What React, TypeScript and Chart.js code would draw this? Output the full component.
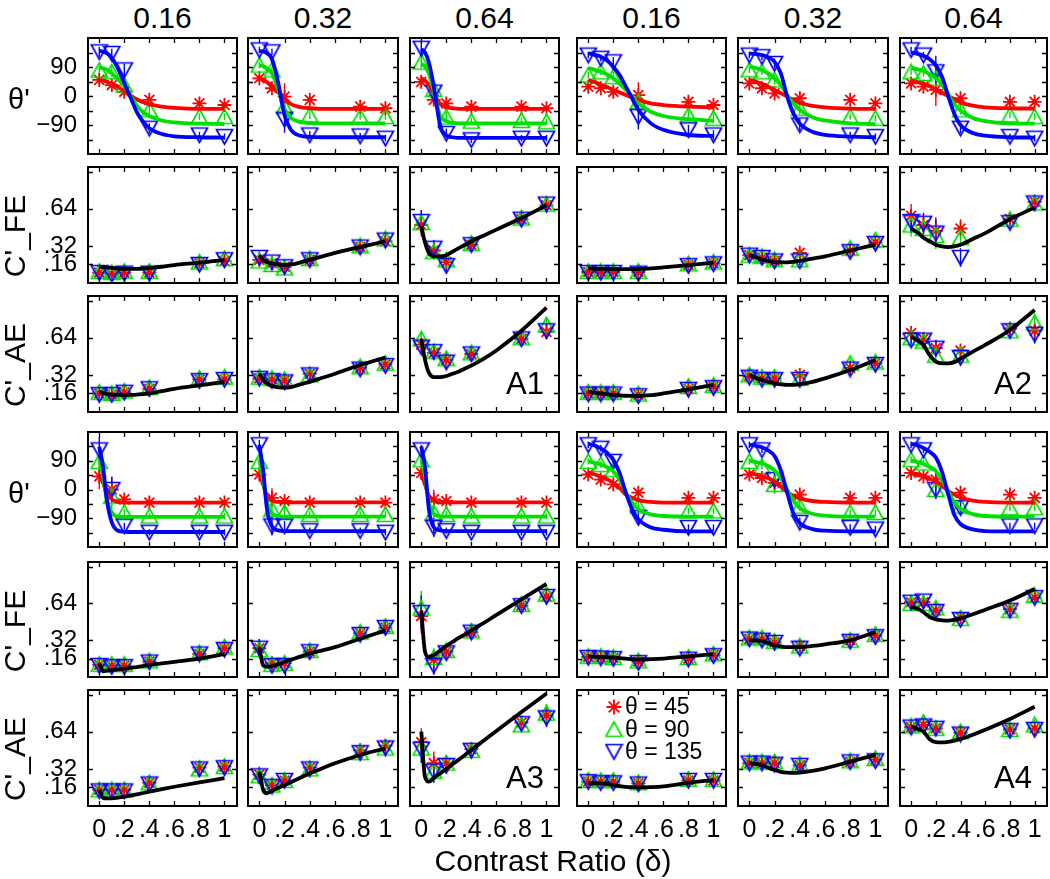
import React, { useEffect, useRef } from 'react';
import { Chart, registerables } from 'chart.js';

Chart.register(...registerables);

// ---------- shared axes / labels ----------
const X = [0, 0.1, 0.2, 0.4, 0.8, 1];
const FIT_X = [0, 0.03, 0.06, 0.1, 0.15, 0.2, 0.25, 0.3, 0.35, 0.4, 0.5, 0.6, 0.8, 1];
const X_TICKS = [0, 0.2, 0.4, 0.6, 0.8, 1];
const THETA_TICKS = [-135, -90, -45, 0, 45, 90, 135];
const THETA_LABELS = [-90, 0, 90];
const C_TICKS = [0.16, 0.32, 0.64, 0.96];
const C_LABELS = [0.16, 0.32, 0.64];
const COL_TITLES = ['0.16', '0.32', '0.64', '0.16', '0.32', '0.64'];
const ROW_LABELS = ["θ'", "C'_FE", "C'_AE", "θ'", "C'_FE", "C'_AE"];
const GROUP_NAMES = ['A1', 'A2', 'A3', 'A4'];
const LEGEND_LABELS = ['θ = 45', 'θ = 90', 'θ = 135'];
const X_TITLE = 'Contrast Ratio (δ)';

// ---------- A1 ----------
const A1_TH45 = [[50, 34, 13, -12, -23, -28], [55, 24, -2, -12, -33, -38], [44, -12, -23, -33, -33, -38]];
const A1_TH90 = [[80, 75, 34, -43, -64, -64], [96, 81, -33, -59, -64, -64], [105, 20, -65, -78, -76, -80]];
const A1_TH135 = [[137, 132, 81, -100, -121, -126], [143, 137, -72, -121, -124, -131], [148, 12, -116, -136, -131, -131]];
const A1_THFIT45 = [
  [50, 48, 44, 38, 28, 15, 2, -10, -19, -25, -33, -37, -40, -40],
  [55, 50, 43, 32, 12, -10, -25, -32, -36, -38, -40, -40, -40, -40],
  [55, 48, 35, 8, -25, -35, -38, -40, -40, -40, -40, -40, -40, -40]];
const A1_THFIT90 = [
  [88, 86, 82, 70, 52, 30, 0, -30, -50, -62, -76, -82, -86, -87],
  [95, 92, 86, 70, 20, -40, -68, -78, -82, -84, -85, -85, -85, -85],
  [100, 92, 70, 15, -60, -78, -83, -85, -85, -85, -85, -85, -85, -85]];
const A1_THFIT135 = [
  [140, 138, 133, 118, 85, 40, -5, -50, -80, -100, -118, -125, -128, -129],
  [140, 138, 133, 115, 40, -60, -105, -120, -125, -127, -128, -128, -128, -128],
  [145, 135, 105, 30, -90, -122, -128, -130, -130, -130, -130, -130, -130, -130]];
const A1_THERR = [[15, 15, 20, 15, 10, 10], [10, 10, 42, 12, 10, 10], [20, 15, 15, 10, 10, 10]];
const A1_FE45 = [[0.09, 0.08, 0.09, 0.09, 0.17, 0.19], [0.2, 0.17, 0.14, 0.2, 0.31, 0.36], [0.5, 0.28, 0.18, 0.33, 0.55, 0.67]];
const A1_FE90 = [[0.1, 0.09, 0.1, 0.1, 0.18, 0.21], [0.19, 0.16, 0.13, 0.21, 0.32, 0.38], [0.52, 0.27, 0.2, 0.34, 0.56, 0.68]];
const A1_FE135 = [[0.09, 0.075, 0.085, 0.085, 0.16, 0.2], [0.22, 0.18, 0.14, 0.2, 0.31, 0.37], [0.53, 0.3, 0.15, 0.33, 0.55, 0.68]];
const A1_FEFIT = [
  [0.14, 0.137, 0.134, 0.13, 0.125, 0.122, 0.121, 0.122, 0.125, 0.13, 0.14, 0.155, 0.175, 0.2],
  [0.24, 0.2, 0.18, 0.17, 0.16, 0.155, 0.16, 0.17, 0.185, 0.2, 0.23, 0.26, 0.31, 0.36],
  [0.49, 0.35, 0.26, 0.23, 0.23, 0.24, 0.27, 0.3, 0.33, 0.36, 0.41, 0.46, 0.56, 0.67]];
const A1_FEERR = [[0.03, 0.03, 0.03, 0.03, 0.04, 0.04], [0.05, 0.04, 0.04, 0.04, 0.04, 0.04], [0.1, 0.07, 0.05, 0.05, 0.04, 0.04]];
const A1_AE45 = [[0.16, 0.15, 0.17, 0.2, 0.28, 0.28], [0.29, 0.28, 0.27, 0.33, 0.38, 0.41], [0.58, 0.51, 0.45, 0.5, 0.63, 0.69]];
const A1_AE90 = [[0.17, 0.16, 0.18, 0.21, 0.29, 0.3], [0.3, 0.29, 0.28, 0.32, 0.39, 0.42], [0.63, 0.52, 0.46, 0.51, 0.64, 0.75]];
const A1_AE135 = [[0.15, 0.15, 0.17, 0.2, 0.27, 0.28], [0.29, 0.27, 0.26, 0.32, 0.37, 0.4], [0.56, 0.52, 0.43, 0.5, 0.63, 0.7]];
const A1_AEFIT = [
  [0.175, 0.165, 0.155, 0.15, 0.147, 0.146, 0.147, 0.15, 0.155, 0.16, 0.18, 0.2, 0.23, 0.26],
  [0.33, 0.28, 0.245, 0.224, 0.213, 0.21, 0.215, 0.23, 0.245, 0.26, 0.295, 0.33, 0.405, 0.47],
  [0.63, 0.45, 0.34, 0.3, 0.3, 0.31, 0.33, 0.35, 0.375, 0.4, 0.46, 0.53, 0.7, 0.9]];
const A1_AEERR = [[0.03, 0.03, 0.03, 0.04, 0.05, 0.05], [0.04, 0.04, 0.04, 0.04, 0.04, 0.05], [0.05, 0.06, 0.05, 0.05, 0.05, 0.06]];

// ---------- A2 ----------
const A2_TH45 = [[29, 24, 13, 3, -18, -28], [39, 24, 8, -7, -12, -23], [39, 29, 19, -7, -18, -18]];
const A2_TH90 = [[65, 75, 60, -18, -59, -69], [81, 75, 50, -38, -64, -69], [75, 70, 55, -43, -59, -64]];
const A2_TH135 = [[127, 117, 106, -64, -105, -121], [127, 122, 101, -90, -121, -126], [143, 127, 75, -100, -126, -131]];
const A2_THFIT45 = [
  [50, 46, 42, 36, 28, 19, 11, 3, -4, -12, -23, -28, -33, -35],
  [50, 47, 43, 38, 29, 19, 9, -2, -12, -21, -31, -35, -39, -40],
  [48, 45, 42, 38, 30, 20, 10, 0, -10, -20, -30, -35, -38, -39]];
const A2_THFIT90 = [
  [86, 84, 80, 75, 67, 55, 38, 19, -2, -23, -49, -62, -72, -77],
  [91, 89, 86, 81, 70, 55, 34, 3, -23, -43, -66, -76, -85, -87],
  [88, 85, 82, 78, 68, 55, 35, 5, -25, -45, -68, -78, -85, -86]];
const A2_THFIT135 = [
  [132, 130, 127, 122, 110, 91, 65, 29, -7, -43, -85, -105, -121, -124],
  [132, 131, 130, 127, 120, 106, 70, -2, -54, -85, -111, -121, -126, -128],
  [135, 133, 130, 125, 114, 95, 60, 0, -55, -90, -115, -123, -128, -129]];
const A2_THERR = [[10, 10, 15, 40, 15, 15], [10, 10, 15, 20, 10, 10], [10, 10, 50, 15, 10, 10]];
const A2_FE45 = [[0.095, 0.095, 0.095, 0.095, 0.155, 0.17], [0.24, 0.22, 0.19, 0.26, 0.28, 0.35], [0.58, 0.5, 0.45, 0.47, 0.55, 0.7]];
const A2_FE90 = [[0.1, 0.1, 0.1, 0.1, 0.165, 0.18], [0.24, 0.23, 0.2, 0.2, 0.3, 0.37], [0.5, 0.47, 0.41, 0.39, 0.55, 0.69]];
const A2_FE135 = [[0.09, 0.09, 0.09, 0.085, 0.15, 0.165], [0.24, 0.22, 0.19, 0.19, 0.27, 0.34], [0.53, 0.515, 0.43, 0.22, 0.52, 0.69]];
const A2_FEFIT = [
  [0.127, 0.125, 0.123, 0.122, 0.121, 0.12, 0.12, 0.12, 0.12, 0.12, 0.126, 0.135, 0.155, 0.175],
  [0.24, 0.23, 0.22, 0.2, 0.19, 0.18, 0.178, 0.178, 0.182, 0.19, 0.21, 0.23, 0.28, 0.33],
  [0.47, 0.45, 0.43, 0.39, 0.36, 0.33, 0.315, 0.31, 0.315, 0.33, 0.38, 0.43, 0.55, 0.65]];
const A2_FEERR = [[0.03, 0.03, 0.03, 0.03, 0.04, 0.04], [0.04, 0.04, 0.04, 0.04, 0.04, 0.04], [0.1, 0.09, 0.12, 0.08, 0.05, 0.04]];
const A2_AE45 = [[0.16, 0.16, 0.16, 0.15, 0.2, 0.22], [0.31, 0.29, 0.29, 0.32, 0.38, 0.42], [0.68, 0.63, 0.55, 0.53, 0.72, 0.7]];
const A2_AE90 = [[0.17, 0.17, 0.17, 0.155, 0.22, 0.23], [0.32, 0.3, 0.3, 0.29, 0.42, 0.43], [0.64, 0.61, 0.49, 0.49, 0.7, 0.77]];
const A2_AE135 = [[0.155, 0.155, 0.155, 0.14, 0.195, 0.21], [0.3, 0.28, 0.28, 0.28, 0.37, 0.41], [0.62, 0.62, 0.55, 0.47, 0.7, 0.67]];
const A2_AEFIT = [
  [0.175, 0.17, 0.165, 0.16, 0.153, 0.146, 0.143, 0.14, 0.139, 0.138, 0.145, 0.16, 0.195, 0.233],
  [0.319, 0.305, 0.29, 0.276, 0.26, 0.247, 0.238, 0.233, 0.234, 0.24, 0.26, 0.29, 0.362, 0.448],
  [0.65, 0.63, 0.61, 0.578, 0.49, 0.434, 0.42, 0.42, 0.43, 0.46, 0.52, 0.578, 0.707, 0.88]];
const A2_AEERR = [[0.03, 0.03, 0.03, 0.03, 0.04, 0.04], [0.04, 0.04, 0.04, 0.04, 0.04, 0.04], [0.05, 0.06, 0.07, 0.05, 0.05, 0.08]];

// ---------- A3 ----------
const A3_TH45 = [[41, 0, -31, -41, -41, -41], [47, -26, -36, -41, -41, -41], [52, -31, -36, -41, -41, -41]];
const A3_TH90 = [[88, -21, -72, -83, -83, -83], [88, -62, -72, -78, -78, -78], [93, -72, -78, -83, -83, -83]];
const A3_TH135 = [[124, 0, -114, -134, -134, -134], [140, -114, -114, -129, -129, -134], [124, -119, -129, -134, -134, -134]];
const A3_THFIT45 = [
  [47, 21, -10, -31, -39, -41, -41, -41, -41, -41, -41, -41, -41, -41],
  [50, 15, -20, -35, -39, -40, -40, -40, -40, -40, -40, -40, -40, -40],
  [50, 15, -20, -36, -40, -40, -40, -40, -40, -40, -40, -40, -40, -40]];
const A3_THFIT90 = [
  [93, 41, -31, -72, -85, -86, -86, -86, -86, -86, -86, -86, -86, -86],
  [95, 30, -40, -75, -83, -85, -85, -85, -85, -85, -85, -85, -85, -85],
  [95, 40, -40, -76, -84, -85, -85, -85, -85, -85, -85, -85, -85, -85]];
const A3_THFIT135 = [
  [134, 72, -31, -103, -129, -132, -133, -133, -133, -133, -133, -133, -133, -133],
  [140, 60, -60, -115, -128, -130, -130, -130, -130, -130, -130, -130, -130, -130],
  [135, 70, -60, -118, -128, -130, -130, -130, -130, -130, -130, -130, -130, -130]];
const A3_THERR = [[40, 40, 10, 10, 10, 10], [15, 30, 15, 10, 10, 10], [15, 30, 10, 10, 10, 10]];
const A3_FE45 = [[0.105, 0.1, 0.1, 0.135, 0.2, 0.25], [0.25, 0.12, 0.12, 0.22, 0.38, 0.43], [0.53, 0.15, 0.22, 0.39, 0.62, 0.7]];
const A3_FE90 = [[0.11, 0.11, 0.11, 0.14, 0.21, 0.26], [0.24, 0.11, 0.12, 0.23, 0.39, 0.44], [0.6, 0.17, 0.23, 0.4, 0.63, 0.72]];
const A3_FE135 = [[0.1, 0.09, 0.09, 0.13, 0.2, 0.24], [0.25, 0.1, 0.1, 0.22, 0.37, 0.43], [0.56, 0.1, 0.21, 0.39, 0.62, 0.7]];
const A3_FEFIT = [
  [0.117, 0.05, 0.055, 0.06, 0.066, 0.072, 0.08, 0.086, 0.094, 0.103, 0.118, 0.132, 0.16, 0.198],
  [0.26, 0.103, 0.09, 0.095, 0.11, 0.132, 0.15, 0.168, 0.186, 0.204, 0.232, 0.26, 0.333, 0.405],
  [0.578, 0.22, 0.175, 0.19, 0.23, 0.27, 0.305, 0.34, 0.37, 0.405, 0.47, 0.54, 0.675, 0.81]];
const A3_FEERR = [[0.03, 0.03, 0.03, 0.04, 0.04, 0.04], [0.08, 0.04, 0.04, 0.04, 0.04, 0.05], [0.15, 0.08, 0.06, 0.05, 0.04, 0.04]];
const A3_AE45 = [[0.14, 0.14, 0.14, 0.2, 0.33, 0.34], [0.27, 0.18, 0.22, 0.33, 0.48, 0.52], [0.55, 0.37, 0.37, 0.49, 0.72, 0.78]];
const A3_AE90 = [[0.14, 0.14, 0.14, 0.2, 0.32, 0.34], [0.26, 0.18, 0.22, 0.32, 0.46, 0.5], [0.5, 0.3, 0.37, 0.48, 0.7, 0.8]];
const A3_AE135 = [[0.13, 0.13, 0.13, 0.19, 0.32, 0.33], [0.26, 0.17, 0.22, 0.32, 0.46, 0.5], [0.49, 0.3, 0.35, 0.48, 0.71, 0.76]];
const A3_AEFIT = [
  [0.138, 0.07, 0.066, 0.066, 0.072, 0.08, 0.09, 0.1, 0.112, 0.123, 0.145, 0.166, 0.204, 0.24],
  [0.296, 0.14, 0.11, 0.132, 0.155, 0.181, 0.205, 0.23, 0.256, 0.282, 0.325, 0.368, 0.44, 0.497],
  [0.641, 0.25, 0.21, 0.24, 0.28, 0.32, 0.36, 0.4, 0.44, 0.483, 0.565, 0.647, 0.81, 0.97]];
const A3_AEERR = [[0.03, 0.03, 0.03, 0.04, 0.05, 0.05], [0.07, 0.05, 0.05, 0.05, 0.06, 0.06], [0.12, 0.1, 0.07, 0.06, 0.05, 0.08]];

// ---------- A4 ----------
const A4_TH45 = [[47, 31, 16, -10, -26, -26], [47, 36, 21, -16, -26, -26], [52, 41, 31, -10, -16, -26]];
const A4_TH90 = [[88, 78, 62, -52, -67, -67], [88, 72, 16, -52, -72, -72], [93, 83, 0, -52, -57, -57]];
const A4_TH135 = [[140, 129, 88, -88, -119, -119], [140, 124, 31, -103, -119, -124], [140, 124, 0, -57, -114, -114]];
const A4_THFIT45 = [
  [54, 50, 46, 41, 32, 21, 5, -16, -26, -33, -39, -41, -41, -41],
  [52, 49, 46, 42, 35, 25, 10, -8, -20, -28, -36, -39, -41, -41],
  [52, 49, 46, 42, 34, 25, 12, -5, -16, -25, -35, -39, -41, -41]];
const A4_THFIT90 = [
  [88, 86, 83, 78, 70, 57, 31, -10, -41, -62, -78, -83, -85, -85],
  [90, 88, 85, 82, 73, 60, 35, 0, -35, -58, -76, -82, -85, -85],
  [90, 88, 85, 80, 71, 58, 30, -5, -40, -60, -77, -83, -85, -85]];
const A4_THFIT135 = [
  [143, 140, 136, 129, 115, 93, 52, -10, -62, -93, -119, -126, -131, -131],
  [140, 139, 136, 132, 122, 105, 60, -10, -75, -105, -124, -129, -131, -131],
  [143, 141, 137, 130, 118, 100, 55, -15, -80, -108, -125, -130, -131, -131]];
const A4_THERR = [[10, 10, 15, 20, 10, 10], [10, 10, 30, 15, 10, 10], [10, 10, 30, 20, 10, 10]];
const A4_FE45 = [[0.175, 0.17, 0.165, 0.135, 0.16, 0.19], [0.33, 0.33, 0.3, 0.27, 0.32, 0.36], [0.65, 0.65, 0.58, 0.52, 0.59, 0.69]];
const A4_FE90 = [[0.18, 0.18, 0.17, 0.14, 0.17, 0.2], [0.34, 0.34, 0.31, 0.27, 0.32, 0.37], [0.64, 0.64, 0.6, 0.51, 0.58, 0.71]];
const A4_FE135 = [[0.17, 0.165, 0.16, 0.125, 0.155, 0.185], [0.33, 0.32, 0.3, 0.25, 0.31, 0.35], [0.65, 0.66, 0.57, 0.5, 0.58, 0.69]];
const A4_FEFIT = [
  [0.18, 0.178, 0.176, 0.175, 0.172, 0.17, 0.165, 0.16, 0.155, 0.152, 0.155, 0.16, 0.18, 0.198],
  [0.319, 0.318, 0.316, 0.313, 0.295, 0.276, 0.266, 0.26, 0.26, 0.26, 0.27, 0.284, 0.319, 0.39],
  [0.607, 0.6, 0.59, 0.563, 0.52, 0.5, 0.493, 0.49, 0.497, 0.51, 0.545, 0.585, 0.665, 0.765]];
const A4_FEERR = [[0.03, 0.03, 0.03, 0.03, 0.03, 0.03], [0.04, 0.04, 0.04, 0.04, 0.04, 0.04], [0.04, 0.05, 0.05, 0.04, 0.04, 0.04]];
const A4_AE45 = [[0.21, 0.21, 0.21, 0.195, 0.22, 0.22], [0.37, 0.37, 0.37, 0.35, 0.38, 0.4], [0.68, 0.7, 0.67, 0.63, 0.66, 0.67]];
const A4_AE90 = [[0.22, 0.22, 0.22, 0.2, 0.23, 0.23], [0.38, 0.38, 0.38, 0.36, 0.39, 0.41], [0.69, 0.72, 0.67, 0.64, 0.66, 0.7]];
const A4_AE135 = [[0.21, 0.2, 0.2, 0.19, 0.22, 0.22], [0.37, 0.37, 0.36, 0.35, 0.38, 0.39], [0.68, 0.69, 0.67, 0.62, 0.65, 0.66]];
const A4_AEFIT = [
  [0.195, 0.195, 0.195, 0.195, 0.19, 0.181, 0.172, 0.165, 0.162, 0.16, 0.163, 0.17, 0.2, 0.224],
  [0.368, 0.365, 0.36, 0.353, 0.33, 0.31, 0.295, 0.287, 0.285, 0.287, 0.302, 0.325, 0.382, 0.44],
  [0.684, 0.675, 0.66, 0.641, 0.575, 0.55, 0.548, 0.553, 0.563, 0.578, 0.615, 0.657, 0.75, 0.856]];
const A4_AEERR = [[0.03, 0.03, 0.03, 0.03, 0.03, 0.03], [0.04, 0.04, 0.04, 0.04, 0.04, 0.04], [0.04, 0.04, 0.04, 0.04, 0.04, 0.04]];

// ---------- layout & style ----------
const FONT = "'Liberation Sans', Arial, Helvetica, sans-serif";
const RED = '#ff0000';
const GREEN = '#00e000';
const BLUE = '#0000ff';
const COL_LEFT = [88, 248, 410, 577, 738, 900];
const COL_W = [149, 150, 149, 149, 150, 147];
const ROW_TOP = [38, 167, 296, 432, 562, 690];
const ROW_H = [116, 116, 116, 115, 115, 116];

type Group = {
  r0: number; c0: number;
  th45: number[][]; th90: number[][]; th135: number[][];
  thFit45: number[][]; thFit90: number[][]; thFit135: number[][]; thErr: number[][];
  fe45: number[][]; fe90: number[][]; fe135: number[][]; feFit: number[][]; feErr: number[][];
  ae45: number[][]; ae90: number[][]; ae135: number[][]; aeFit: number[][]; aeErr: number[][];
};

const GROUPS: Group[] = [
  { r0: 0, c0: 0, th45: A1_TH45, th90: A1_TH90, th135: A1_TH135, thFit45: A1_THFIT45, thFit90: A1_THFIT90, thFit135: A1_THFIT135, thErr: A1_THERR,
    fe45: A1_FE45, fe90: A1_FE90, fe135: A1_FE135, feFit: A1_FEFIT, feErr: A1_FEERR, ae45: A1_AE45, ae90: A1_AE90, ae135: A1_AE135, aeFit: A1_AEFIT, aeErr: A1_AEERR },
  { r0: 0, c0: 3, th45: A2_TH45, th90: A2_TH90, th135: A2_TH135, thFit45: A2_THFIT45, thFit90: A2_THFIT90, thFit135: A2_THFIT135, thErr: A2_THERR,
    fe45: A2_FE45, fe90: A2_FE90, fe135: A2_FE135, feFit: A2_FEFIT, feErr: A2_FEERR, ae45: A2_AE45, ae90: A2_AE90, ae135: A2_AE135, aeFit: A2_AEFIT, aeErr: A2_AEERR },
  { r0: 3, c0: 0, th45: A3_TH45, th90: A3_TH90, th135: A3_TH135, thFit45: A3_THFIT45, thFit90: A3_THFIT90, thFit135: A3_THFIT135, thErr: A3_THERR,
    fe45: A3_FE45, fe90: A3_FE90, fe135: A3_FE135, feFit: A3_FEFIT, feErr: A3_FEERR, ae45: A3_AE45, ae90: A3_AE90, ae135: A3_AE135, aeFit: A3_AEFIT, aeErr: A3_AEERR },
  { r0: 3, c0: 3, th45: A4_TH45, th90: A4_TH90, th135: A4_TH135, thFit45: A4_THFIT45, thFit90: A4_THFIT90, thFit135: A4_THFIT135, thErr: A4_THERR,
    fe45: A4_FE45, fe90: A4_FE90, fe135: A4_FE135, feFit: A4_FEFIT, feErr: A4_FEERR, ae45: A4_AE45, ae90: A4_AE90, ae135: A4_AE135, aeFit: A4_AEFIT, aeErr: A4_AEERR },
];

type PanelSpec = {
  row: number; col: number; theta: boolean;
  s45: number[]; s90: number[]; s135: number[];
  fits: number[][]; err: number[]; legend: boolean;
};

const PANELS: PanelSpec[] = [];
GROUPS.forEach((g) => {
  for (let j = 0; j < 3; j++) {
    const col = g.c0 + j;
    PANELS.push({ row: g.r0, col, theta: true, s45: g.th45[j], s90: g.th90[j], s135: g.th135[j],
      fits: [g.thFit45[j], g.thFit90[j], g.thFit135[j]], err: g.thErr[j], legend: false });
    PANELS.push({ row: g.r0 + 1, col, theta: false, s45: g.fe45[j], s90: g.fe90[j], s135: g.fe135[j],
      fits: [g.feFit[j]], err: g.feErr[j], legend: false });
    PANELS.push({ row: g.r0 + 2, col, theta: false, s45: g.ae45[j], s90: g.ae90[j], s135: g.ae135[j],
      fits: [g.aeFit[j]], err: g.aeErr[j], legend: g.r0 + 2 === 5 && col === 3 });
  }
});

const pts = (xs: number[], ys: number[]) => xs.map((x, i) => ({ x, y: ys[i] }));

function triMarker(color: string, down: boolean): HTMLCanvasElement {
  const c = document.createElement('canvas');
  c.width = 19; c.height = 19;
  const g = c.getContext('2d')!;
  g.strokeStyle = color; g.lineWidth = 1.7; g.lineJoin = 'miter';
  g.beginPath();
  if (down) { g.moveTo(1.5, 2.5); g.lineTo(17.5, 2.5); g.lineTo(9.5, 17); }
  else { g.moveTo(9.5, 2); g.lineTo(17.5, 16.5); g.lineTo(1.5, 16.5); }
  g.closePath(); g.stroke();
  return c;
}

let MARKERS: { up: HTMLCanvasElement; down: HTMLCanvasElement } | null = null;
function markers() {
  if (!MARKERS) MARKERS = { up: triMarker(GREEN, false), down: triMarker(BLUE, true) };
  return MARKERS;
}

function drawStar(ctx: CanvasRenderingContext2D, cx: number, cy: number, r: number) {
  ctx.save();
  ctx.strokeStyle = RED; ctx.lineWidth = 1.8;
  ctx.beginPath();
  for (let k = 0; k < 4; k++) {
    const a = (k * Math.PI) / 4;
    ctx.moveTo(cx - Math.cos(a) * r, cy - Math.sin(a) * r);
    ctx.lineTo(cx + Math.cos(a) * r, cy + Math.sin(a) * r);
  }
  ctx.stroke();
  ctx.restore();
}

const framePlugin = {
  id: 'frame',
  beforeDatasetsDraw(chart: any) {
    const { ctx, chartArea: a, scales } = chart;
    const xs = scales.x, ys = scales.y;
    ctx.save();
    ctx.beginPath(); ctx.rect(a.left, a.top, a.right - a.left, a.bottom - a.top); ctx.clip();
    chart.data.datasets.forEach((ds: any) => {
      if (!ds.errs) return;
      ctx.strokeStyle = ds.errColor; ctx.lineWidth = 1.4;
      ds.data.forEach((p: any, i: number) => {
        const e = ds.errs[i];
        const px = xs.getPixelForValue(p.x);
        ctx.beginPath();
        ctx.moveTo(px, ys.getPixelForValue(p.y - e));
        ctx.lineTo(px, ys.getPixelForValue(p.y + e));
        ctx.stroke();
      });
    });
    ctx.restore();
  },
  afterDatasetsDraw(chart: any, _args: any, opts: any) {
    const { ctx, chartArea: a, scales } = chart;
    const xs = scales.x, ys = scales.y;
    ctx.save();
    ctx.strokeStyle = '#000'; ctx.lineWidth = 1.3;
    const tl = 5;
    ctx.beginPath();
    (opts.xt as number[]).forEach((v) => {
      const px = Math.round(xs.getPixelForValue(v)) + 0.5;
      ctx.moveTo(px, a.bottom); ctx.lineTo(px, a.bottom - tl);
      ctx.moveTo(px, a.top); ctx.lineTo(px, a.top + tl);
    });
    (opts.yt as number[]).forEach((v) => {
      const py = Math.round(ys.getPixelForValue(v)) + 0.5;
      ctx.moveTo(a.left, py); ctx.lineTo(a.left + tl, py);
      ctx.moveTo(a.right, py); ctx.lineTo(a.right - tl, py);
    });
    ctx.stroke();
    ctx.lineWidth = 2;
    ctx.strokeRect(a.left, a.top, a.right - a.left, a.bottom - a.top);
    if (opts.legend) {
      const m = markers();
      ctx.font = `23px ${FONT}`;
      ctx.fillStyle = '#000';
      ctx.textBaseline = 'middle';
      ctx.textAlign = 'left';
      LEGEND_LABELS.forEach((t, i) => {
        const cy = a.top + 17 + i * 22.3;
        const cx = a.left + 37;
        if (i === 0) drawStar(ctx, cx, cy, 7.5);
        else ctx.drawImage(i === 1 ? m.up : m.down, cx - 9.5, cy - 9.5);
        ctx.fillText(t, a.left + 48, cy + 1);
      });
    }
    ctx.restore();
  },
};

function Panel({ spec }: { spec: PanelSpec }) {
  const ref = useRef<HTMLCanvasElement>(null);
  const L = COL_LEFT[spec.col], T = ROW_TOP[spec.row], W = COL_W[spec.col], H = ROW_H[spec.row];
  const showY = spec.col === 0;
  const showX = spec.row === 5;
  const padL = showY ? 74 : 4;
  const padB = showX ? 44 : 4;
  const padT = 4, padR = 4;

  useEffect(() => {
    const m = markers();
    const fitColors = spec.theta ? [RED, GREEN, BLUE] : ['#000'];
    const datasets: any[] = [];
    spec.fits.forEach((f, i) => {
      datasets.push({
        type: 'line', data: pts(FIT_X, f), borderColor: fitColors[i], borderWidth: 3.8,
        pointRadius: 0, cubicInterpolationMode: 'monotone', fill: false, order: -1 - i,
      });
    });
    datasets.push({ type: 'scatter', data: pts(X, spec.s45), pointStyle: 'star', pointRadius: 7,
      pointBorderColor: RED, pointBackgroundColor: 'rgba(0,0,0,0)', pointBorderWidth: 1.8,
      errs: spec.err, errColor: RED, order: 3 });
    datasets.push({ type: 'scatter', data: pts(X, spec.s90), pointStyle: m.up, pointRadius: 9,
      pointBorderColor: GREEN, errs: spec.err, errColor: GREEN, order: 2 });
    datasets.push({ type: 'scatter', data: pts(X, spec.s135), pointStyle: m.down, pointRadius: 9,
      pointBorderColor: BLUE, errs: spec.err, errColor: BLUE, order: 1 });

    const yLabels = spec.theta ? THETA_LABELS : C_LABELS;
    const chart = new Chart(ref.current as HTMLCanvasElement, {
      type: 'scatter',
      data: { datasets },
      options: {
        animation: false,
        responsive: false,
        devicePixelRatio: 1,
        events: [],
        layout: { padding: { top: padT, right: padR, left: 0, bottom: 0 }, autoPadding: false },
        plugins: {
          legend: { display: false },
          tooltip: { enabled: false },
          frame: { xt: X_TICKS, yt: spec.theta ? THETA_TICKS : C_TICKS, legend: spec.legend },
        } as any,
        scales: {
          x: {
            type: 'linear', min: -0.09, max: 1.1,
            grid: { display: false, drawTicks: false },
            border: { display: false },
            ticks: {
              display: showX, color: '#000', padding: 9, maxRotation: 0, autoSkip: false,
              font: { size: 25, family: FONT },
              callback: (v: any) => (v === 0 ? '0' : v === 1 ? '1' : '.' + Math.round(Number(v) * 10)),
            },
            afterBuildTicks: (s: any) => { s.ticks = X_TICKS.map((v) => ({ value: v })); },
            afterFit: (s: any) => {
              s.height = padB;
              s.paddingLeft = 0; s.paddingRight = 0; s.paddingTop = 0; s.paddingBottom = 0;
            },
          },
          y: {
            type: 'linear', min: spec.theta ? -180 : 0, max: spec.theta ? 180 : 1,
            grid: { display: false, drawTicks: false },
            border: { display: false },
            ticks: {
              display: showY, color: '#000', padding: 11, autoSkip: false,
              font: { size: 24, family: FONT },
              callback: (v: any) => {
                const n = Number(v);
                if (spec.theta) return n < 0 ? '\u2212' + String(-n) : String(n);
                return '.' + Math.round(n * 100);
              },
            },
            afterBuildTicks: (s: any) => { s.ticks = yLabels.map((v) => ({ value: v })); },
            afterFit: (s: any) => {
              s.width = padL;
              s.paddingLeft = 0; s.paddingRight = 0; s.paddingTop = 0; s.paddingBottom = 0;
            },
          },
        },
      } as any,
      plugins: [framePlugin as any],
    });
    return () => chart.destroy();
  }, []);

  return (
    <canvas
      ref={ref}
      width={W + padL + padR}
      height={H + padT + padB}
      style={{ position: 'absolute', left: L - padL, top: T - padT, width: W + padL + padR, height: H + padT + padB }}
    />
  );
}

function Text({ x, baseline, size, children, align = 'left', width = 300 }: any) {
  const top = baseline - 0.8465 * size;
  let left = x;
  if (align === 'center') left = x - width / 2;
  if (align === 'right') left = x - width;
  return (
    <div style={{ position: 'absolute', left, top, width, fontSize: size, lineHeight: 1, fontFamily: FONT,
      textAlign: align, whiteSpace: 'nowrap', color: '#000', zIndex: 2 }}>{children}</div>
  );
}

export default function App() {
  return (
    <div style={{ position: 'absolute', left: 0, top: 0, width: 1050, height: 879, background: '#fff', overflow: 'hidden', fontFamily: FONT }}>
      {PANELS.map((p, i) => <Panel key={i} spec={p} />)}
      {COL_TITLES.map((t, i) => (
        <Text key={'t' + i} x={COL_LEFT[i] + COL_W[i] / 2} baseline={28} size={30} align="center" width={140}>{t}</Text>
      ))}
      {ROW_LABELS.map((t, r) => {
        const cy = ROW_TOP[r] + ROW_H[r] / 2;
        if (r % 3 === 0) return <Text key={'r' + r} x={8} baseline={cy + 14} size={29}>{t}</Text>;
        const size = 30;
        const w = 120;
        const cx = 15;
        return (
          <div key={'r' + r} style={{ position: 'absolute', left: cx - w / 2, top: cy + 11 - size / 2, width: w, height: size,
            fontSize: size, lineHeight: 1, fontFamily: FONT, textAlign: 'center', whiteSpace: 'nowrap',
            transform: 'rotate(-90deg)', transformOrigin: '50% 50%', zIndex: 2 }}>{t}</div>
        );
      })}
      {GROUP_NAMES.map((n, i) => {
        const g = GROUPS[i];
        const col = g.c0 + 2, row = g.r0 + 2;
        return (
          <Text key={'g' + i} x={COL_LEFT[col] + COL_W[col] - 15} baseline={ROW_TOP[row] + ROW_H[row] - 18} size={31} align="right" width={80}>{n}</Text>
        );
      })}
      <Text x={553} baseline={871} size={30} align="center" width={420}>{X_TITLE}</Text>
    </div>
  );
}
